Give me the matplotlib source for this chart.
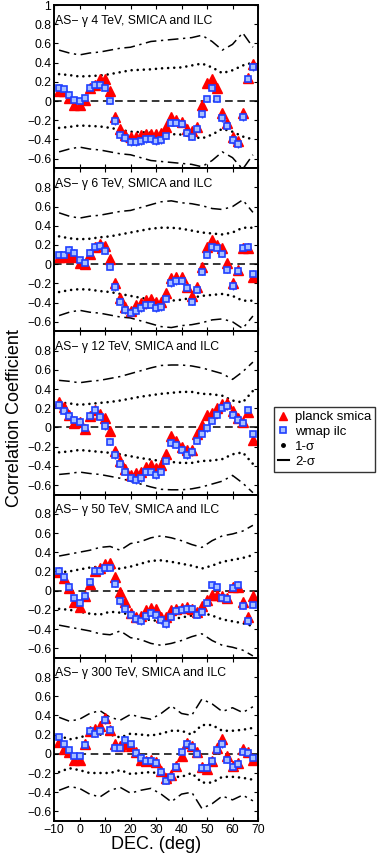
import matplotlib
matplotlib.use("Agg")
import matplotlib.pyplot as plt
from matplotlib.lines import Line2D
import numpy as np

plt.rcParams['font.family'] = ['Liberation Sans', 'DejaVu Sans']

# declination grid for the data points and for the sigma bands
dec = np.arange(-8, 70, 2)
dec_sig = np.arange(-8, 70, 4)
xticks = [-10, 0, 10, 20, 30, 40, 50, 60, 70]

titles = ["AS\u2212 \u03b3 4 TeV, SMICA and ILC",
          "AS\u2212 \u03b3 6 TeV, SMICA and ILC",
          "AS\u2212 \u03b3 12 TeV, SMICA and ILC",
          "AS\u2212 \u03b3 50 TeV, SMICA and ILC",
          "AS\u2212 \u03b3 300 TeV, SMICA and ILC"]

# planck smica
planck_4 = [0.10, 0.10, 0.03, -0.04, -0.04, 0.01, 0.14, 0.17, 0.23, 0.23, 0.10, -0.17, -0.29,
            -0.35, -0.38, -0.38, -0.35, -0.34, -0.34, -0.34, -0.33, -0.27, -0.17, -0.20, -0.22,
            -0.29, -0.31, -0.27, -0.04, 0.19, 0.23, 0.14, -0.12, -0.23, -0.38, -0.42, -0.13, 0.24, 0.39]
planck_6 = [0.08, 0.08, 0.09, 0.07, 0.01, 0.00, 0.11, 0.18, 0.21, 0.19, 0.05, -0.20, -0.35,
            -0.45, -0.49, -0.43, -0.40, -0.37, -0.36, -0.39, -0.39, -0.30, -0.14, -0.13, -0.13,
            -0.24, -0.33, -0.24, -0.03, 0.18, 0.25, 0.20, 0.17, 0.01, -0.20, -0.06, 0.17, 0.17, -0.13]
planck_12 = [0.26, 0.21, 0.13, 0.05, 0.06, -0.02, 0.12, 0.18, 0.14, 0.10, -0.04, -0.25, -0.35,
             -0.43, -0.50, -0.48, -0.46, -0.41, -0.39, -0.42, -0.39, -0.28, -0.09, -0.14, -0.20,
             -0.24, -0.24, -0.07, 0.03, 0.13, 0.15, 0.20, 0.24, 0.25, 0.17, 0.10, 0.06, 0.16, -0.13]
planck_50 = [0.19, 0.13, 0.025, -0.12, -0.17, -0.06, 0.07, 0.20, 0.24, 0.28, 0.29, 0.14, -0.01,
             -0.12, -0.23, -0.27, -0.26, -0.20, -0.18, -0.19, -0.27, -0.28, -0.20, -0.19, -0.18,
             -0.17, -0.19, -0.22, -0.16, -0.10, -0.05, -0.05, -0.06, -0.08, 0.035, 0.035, -0.12, -0.27, -0.06]
planck_300 = [0.125, 0.055, 0.02, -0.06, -0.06, 0.10, 0.24, 0.255, 0.29, 0.37, 0.245, 0.105, 0.08,
              0.105, 0.08, 0.02, -0.06, -0.08, -0.06, -0.085, -0.175, -0.25, -0.22, -0.13, -0.025,
              0.115, 0.08, 0.02, -0.14, -0.155, -0.08, 0.06, 0.15, -0.025, -0.13, -0.095, 0.045, 0.02, -0.06]

# wmap ilc
wmap_4 = [0.14, 0.12, 0.065, 0.01, 0.00, 0.035, 0.14, 0.17, 0.17, 0.14, 0.00, -0.21, -0.35,
          -0.39, -0.43, -0.43, -0.42, -0.40, -0.40, -0.42, -0.41, -0.36, -0.23, -0.23, -0.24,
          -0.33, -0.37, -0.29, -0.14, 0.02, 0.14, 0.02, -0.18, -0.26, -0.41, -0.45, -0.17, 0.23, 0.35]
wmap_6 = [0.10, 0.10, 0.15, 0.12, 0.04, 0.01, 0.12, 0.18, 0.19, 0.14, -0.03, -0.24, -0.39,
          -0.48, -0.51, -0.49, -0.46, -0.43, -0.42, -0.46, -0.45, -0.36, -0.20, -0.18, -0.17,
          -0.25, -0.39, -0.27, -0.08, 0.10, 0.18, 0.17, 0.11, -0.06, -0.23, -0.07, 0.17, 0.18, -0.10]
wmap_12 = [0.23, 0.17, 0.12, 0.08, 0.06, -0.01, 0.12, 0.18, 0.11, 0.01, -0.15, -0.29, -0.38,
           -0.46, -0.53, -0.55, -0.53, -0.46, -0.46, -0.50, -0.46, -0.35, -0.16, -0.18, -0.24,
           -0.29, -0.26, -0.14, -0.07, -0.01, 0.07, 0.13, 0.20, 0.22, 0.13, 0.08, 0.05, 0.18, -0.07]
wmap_50 = [0.20, 0.14, 0.035, -0.08, -0.13, -0.06, 0.085, 0.20, 0.20, 0.24, 0.24, 0.07, -0.11,
           -0.19, -0.25, -0.30, -0.32, -0.26, -0.23, -0.25, -0.31, -0.35, -0.27, -0.21, -0.20,
           -0.19, -0.19, -0.25, -0.22, -0.13, 0.06, 0.035, -0.08, -0.09, 0.025, 0.06, -0.16, -0.32, -0.15]
wmap_300 = [0.175, 0.10, 0.035, -0.025, -0.025, 0.09, 0.24, 0.21, 0.24, 0.35, 0.245, 0.06, 0.06,
            0.14, 0.10, 0.01, -0.04, -0.07, -0.08, -0.095, -0.19, -0.28, -0.245, -0.14, 0.02,
            0.10, 0.07, 0.00, -0.15, -0.15, -0.08, 0.035, 0.10, -0.06, -0.14, -0.11, 0.02, 0.01, -0.04]

# 1-sigma and 2-sigma bands (symmetric about zero)
sig1_4 = [0.28, 0.27, 0.255, 0.26, 0.265, 0.28, 0.30, 0.32, 0.325, 0.33,
          0.34, 0.345, 0.35, 0.37, 0.39, 0.35, 0.29, 0.32, 0.37, 0.40]
sig2_4 = [0.53, 0.50, 0.48, 0.50, 0.51, 0.53, 0.55, 0.56, 0.59, 0.62,
          0.63, 0.64, 0.65, 0.66, 0.685, 0.62, 0.53, 0.59, 0.71, 0.56]
sig1_6 = [0.29, 0.27, 0.26, 0.265, 0.28, 0.29, 0.31, 0.33, 0.35, 0.37,
          0.38, 0.38, 0.37, 0.35, 0.33, 0.32, 0.31, 0.33, 0.38, 0.38]
sig2_6 = [0.535, 0.50, 0.48, 0.50, 0.51, 0.53, 0.55, 0.56, 0.59, 0.62,
          0.65, 0.66, 0.64, 0.63, 0.61, 0.58, 0.57, 0.60, 0.67, 0.54]
sig1_12 = [0.26, 0.25, 0.235, 0.245, 0.255, 0.265, 0.28, 0.30, 0.32, 0.335,
           0.35, 0.36, 0.37, 0.37, 0.35, 0.345, 0.33, 0.28, 0.26, 0.38]
sig2_12 = [0.49, 0.48, 0.465, 0.48, 0.49, 0.51, 0.53, 0.56, 0.59, 0.62,
           0.645, 0.65, 0.65, 0.64, 0.62, 0.59, 0.56, 0.50, 0.58, 0.68]
sig1_50 = [0.19, 0.20, 0.22, 0.24, 0.25, 0.22, 0.23, 0.25, 0.28, 0.31,
           0.315, 0.30, 0.28, 0.26, 0.23, 0.26, 0.30, 0.32, 0.34, 0.37]
sig2_50 = [0.36, 0.38, 0.40, 0.42, 0.45, 0.46, 0.42, 0.49, 0.51, 0.55,
           0.57, 0.55, 0.52, 0.48, 0.45, 0.52, 0.57, 0.59, 0.62, 0.68]
sig1_300 = [0.19, 0.15, 0.17, 0.20, 0.20, 0.20, 0.17, 0.21, 0.20, 0.19,
            0.21, 0.24, 0.24, 0.20, 0.30, 0.30, 0.24, 0.24, 0.25, 0.27]
sig2_300 = [0.38, 0.34, 0.36, 0.42, 0.45, 0.38, 0.35, 0.41, 0.38, 0.36,
            0.42, 0.50, 0.42, 0.40, 0.57, 0.52, 0.44, 0.48, 0.43, 0.49]

planck = [planck_4, planck_6, planck_12, planck_50, planck_300]
wmap = [wmap_4, wmap_6, wmap_12, wmap_50, wmap_300]
sig1 = [sig1_4, sig1_6, sig1_12, sig1_50, sig1_300]
sig2 = [sig2_4, sig2_6, sig2_12, sig2_50, sig2_300]

W, H = 378, 859
fig = plt.figure(figsize=(W / 100, H / 100), dpi=100)

left, right = 54, 258
top, bottom = 5, 821
ph = (bottom - top) / 5.0

def fmt(v):
    if abs(v) < 1e-9:
        return "0"
    if abs(v - round(v)) < 1e-9:
        return str(int(round(v))).replace("-", "\u2212")
    return ("%.1f" % v).replace("-", "\u2212")

dots = (0, (0.01, 2.3))
dashdot = (0, (7, 3, 1.5, 3))

for i in range(5):
    y0 = H - (top + (i + 1) * ph)
    ax = fig.add_axes([left / W, y0 / H, (right - left) / W, ph / H])
    s1 = np.array(sig1[i])
    s2 = np.array(sig2[i])
    for sgn in (1, -1):
        ax.plot(dec_sig, sgn * s1, ls=dots, lw=1.9, color='k', dash_capstyle='round')
        ax.plot(dec_sig, sgn * s2, ls=dashdot, lw=1.1, color='k')
    ax.axhline(0, color='k', ls=(0, (5, 3)), lw=1.1)

    ax.errorbar(dec, planck[i], yerr=0.035, xerr=0.5, fmt='^', color='red', ms=6.5,
                mfc='red', mec='red', elinewidth=1, capsize=0)
    ax.errorbar(dec, wmap[i], yerr=0.035, xerr=0.5, fmt='s', color='#2040ff', ms=4.8,
                mfc='#a8c0ff', mec='#2040ff', mew=1.2, elinewidth=1, capsize=0)

    ax.text(-9.5, 0.9, titles[i], fontsize=8.8, va='top', ha='left')

    ax.set_xlim(-10, 70)
    ax.set_ylim(-0.7, 1.0)
    ax.set_xticks(xticks)
    yt = [-0.6, -0.4, -0.2, 0, 0.2, 0.4, 0.6, 0.8]
    if i == 0:
        yt = yt + [1]
    ax.set_yticks(yt)
    ax.set_yticklabels([fmt(v) for v in yt])
    ax.tick_params(direction='in', top=True, right=True, labelsize=8.8, length=3, width=0.8, pad=2)
    if i < 4:
        ax.set_xticklabels([])
    else:
        ax.set_xticklabels([fmt(v) for v in xticks])
        ax.set_xlabel("DEC. (deg)", fontsize=13, labelpad=0)
    for sp in ax.spines.values():
        sp.set_linewidth(1.4)

fig.text(6 / W, 1 - 418 / H, "Correlation Coefficient", rotation=90, fontsize=13,
         va='center', ha='left')

handles = [
    Line2D([], [], ls='none', marker='^', color='red', ms=6),
    Line2D([], [], ls='none', marker='s', mfc='#a8c0ff', mec='#2040ff', mew=1.2, ms=4.5),
    Line2D([], [], ls='none', marker='o', color='k', ms=2.5),
    Line2D([], [], ls='-', color='k', lw=1.5),
]
leg = fig.legend(handles, ["planck smica", "wmap ilc", "1-\u03c3", "2-\u03c3"],
                 loc='upper left', bbox_to_anchor=(274 / W, 1 - 407 / H), fontsize=9.5,
                 frameon=True, fancybox=False, handlelength=0.8, handletextpad=0.5,
                 borderpad=0.3, labelspacing=0.2, borderaxespad=0)
leg.get_frame().set_edgecolor('k')
leg.get_frame().set_linewidth(1.0)

fig.savefig("out.png", dpi=100)
